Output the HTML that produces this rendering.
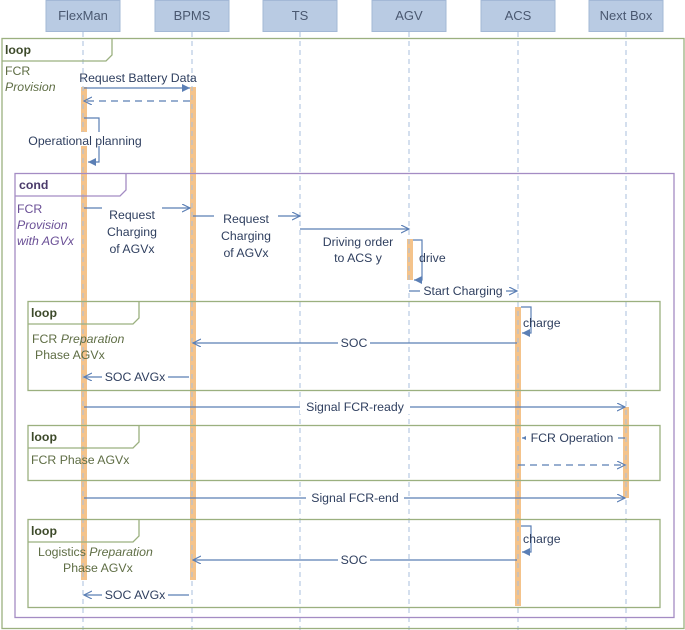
<!DOCTYPE html>
<html><head><style>
body{margin:0;background:#fff}
svg{display:block}
text{font-family:"Liberation Sans",sans-serif;font-size:12.3px;fill:#2f3f5f}
.h{fill:#4a5870;font-size:13px}
.g{fill:#5f6e45}
.p{fill:#6a4f96}
.b{font-weight:bold;fill:#3d4a2a}
.bp{font-weight:bold;fill:#4a3a6a}
</style></head><body>
<svg width="685" height="630" viewBox="0 0 685 630" xmlns="http://www.w3.org/2000/svg">
<defs>
<marker id="o" markerWidth="10" markerHeight="10" refX="8" refY="4" orient="auto" markerUnits="userSpaceOnUse"><path d="M0,0 L8,4 L0,8" fill="none" stroke="#5b7fb5" stroke-width="1.2"/></marker>
<marker id="f" markerWidth="10" markerHeight="10" refX="8" refY="4" orient="auto" markerUnits="userSpaceOnUse"><path d="M0,0 L8,4 L0,8 z" fill="#5b7fb5"/></marker>
</defs>
<g fill="#b9cbe3" stroke="#a3b8d6">
<rect x="46" y="0.5" width="74" height="31"/><rect x="155" y="0.5" width="74" height="31"/><rect x="263" y="0.5" width="74" height="31"/><rect x="372" y="0.5" width="74" height="31"/><rect x="481" y="0.5" width="74" height="31"/><rect x="589" y="0.5" width="74" height="31"/>
</g>
<g text-anchor="middle">
<text class="h" x="83" y="20">FlexMan</text><text class="h" x="192" y="20">BPMS</text><text class="h" x="300" y="20">TS</text><text class="h" x="409" y="20">AGV</text><text class="h" x="518" y="20">ACS</text><text class="h" x="626" y="20">Next Box</text>
</g>
<g fill="#f4c38b">
<rect x="81" y="87" width="6" height="493"/><rect x="190" y="87" width="6" height="493"/><rect x="407" y="239" width="6" height="41"/><rect x="515" y="307" width="6" height="299"/><rect x="623" y="407" width="6" height="91"/>
</g>
<g stroke="#a9bfdc" stroke-dasharray="5,4" stroke-width="1">
<line x1="83" y1="32" x2="83" y2="630"/><line x1="192" y1="32" x2="192" y2="630"/><line x1="300" y1="32" x2="300" y2="630"/><line x1="409" y1="32" x2="409" y2="630"/><line x1="518" y1="32" x2="518" y2="630"/><line x1="626" y1="32" x2="626" y2="630"/>
</g>
<g fill="none" stroke-width="1.3">
<rect x="2" y="38.5" width="682" height="590" stroke="#9bb07f"/>
<path d="M2,61 H106 L112,55 V38.5" stroke="#9bb07f"/>
<rect x="15" y="173.5" width="659" height="444" stroke="#a48cc4"/>
<path d="M15,196 H120 L126,190 V173.5" stroke="#a48cc4"/>
<rect x="28" y="301.5" width="632" height="89" stroke="#9bb07f"/>
<path d="M28,324 H133 L139,318 V301.5" stroke="#9bb07f"/>
<rect x="28" y="425.5" width="632" height="55" stroke="#9bb07f"/>
<path d="M28,448 H133 L139,442 V425.5" stroke="#9bb07f"/>
<rect x="28" y="519.5" width="632" height="88" stroke="#9bb07f"/>
<path d="M28,542 H133 L139,536 V519.5" stroke="#9bb07f"/>
</g>
<text class="b" x="5" y="54">loop</text>
<text class="g" x="5" y="75">FCR</text><text class="g" x="5" y="91" font-style="italic">Provision</text>
<text class="bp" x="19" y="189">cond</text>
<text class="p" x="17" y="213">FCR</text><text class="p" x="17" y="229" font-style="italic">Provision</text><text class="p" x="17" y="245" font-style="italic">with AGVx</text>
<text class="b" x="31" y="317">loop</text>
<text class="g" x="32" y="343">FCR <tspan font-style="italic">Preparation</tspan></text><text class="g" x="35" y="359">Phase AGVx</text>
<text class="b" x="31" y="441">loop</text>
<text class="g" x="31" y="464">FCR Phase AGVx</text>
<text class="b" x="31" y="535">loop</text>
<text class="g" x="38" y="556">Logistics <tspan font-style="italic">Preparation</tspan></text><text class="g" x="63" y="572">Phase AGVx</text>
<g stroke="#5b7fb5" stroke-width="1.2" fill="none">
<line x1="84" y1="88" x2="190" y2="88" marker-end="url(#f)"/>
<line x1="190" y1="101" x2="84" y2="101" stroke-dasharray="7,5" marker-end="url(#o)"/>
<path d="M84,118 H99 V162 H88" marker-end="url(#f)"/>
<line x1="84" y1="208" x2="190" y2="208" marker-end="url(#o)"/>
<line x1="193" y1="216" x2="300" y2="216" marker-end="url(#o)"/>
<line x1="300" y1="229" x2="409" y2="229" marker-end="url(#o)"/>
<path d="M413,240 H422 V280 H414" marker-end="url(#f)"/>
<line x1="409" y1="291" x2="517" y2="291" marker-end="url(#o)"/>
<path d="M521,307 H531 V333 H522" marker-end="url(#f)"/>
<line x1="517" y1="343" x2="193" y2="343" marker-end="url(#o)"/>
<line x1="189" y1="377" x2="84" y2="377" marker-end="url(#o)"/>
<line x1="84" y1="407" x2="625" y2="407" marker-end="url(#o)"/>
<line x1="625" y1="438" x2="522" y2="438" marker-end="url(#f)"/>
<line x1="518" y1="465" x2="625" y2="465" stroke-dasharray="7,5" marker-end="url(#o)"/>
<line x1="84" y1="498" x2="625" y2="498" marker-end="url(#o)"/>
<path d="M521,526 H531 V552 H522" marker-end="url(#f)"/>
<line x1="517" y1="560" x2="193" y2="560" marker-end="url(#o)"/>
<line x1="189" y1="595" x2="84" y2="595" marker-end="url(#o)"/>
</g>
<g fill="#fff">
<rect x="20" y="132" width="130" height="14"/>
<rect x="102" y="200" width="60" height="16"/>
<rect x="214" y="208" width="64" height="14"/>
<rect x="420" y="284" width="86" height="14"/>
<rect x="338" y="336" width="32" height="14"/>
<rect x="102" y="370" width="66" height="14"/>
<rect x="300" y="400" width="110" height="14"/>
<rect x="526" y="431" width="92" height="14"/>
<rect x="306" y="491" width="98" height="14"/>
<rect x="338" y="553" width="32" height="14"/>
<rect x="102" y="588" width="66" height="14"/>
</g>
<g text-anchor="middle">
<text x="138" y="82">Request Battery Data</text>
<text x="85" y="145">Operational planning</text>
<text x="132" y="219">Request</text><text x="132" y="236">Charging</text><text x="132" y="253">of AGVx</text>
<text x="246" y="223">Request</text><text x="246" y="240">Charging</text><text x="246" y="257">of AGVx</text>
<text x="358" y="246">Driving order</text><text x="358" y="262">to ACS y</text>
<text x="463" y="295">Start Charging</text>
<text x="354" y="347">SOC</text>
<text x="135" y="381">SOC AVGx</text>
<text x="355" y="411">Signal FCR-ready</text>
<text x="572" y="442">FCR Operation</text>
<text x="355" y="502">Signal FCR-end</text>
<text x="354" y="564">SOC</text>
<text x="135" y="599">SOC AVGx</text>
</g>
<text x="419" y="262">drive</text>
<text x="523" y="327">charge</text>
<text x="523" y="543">charge</text>
</svg>
</body></html>
